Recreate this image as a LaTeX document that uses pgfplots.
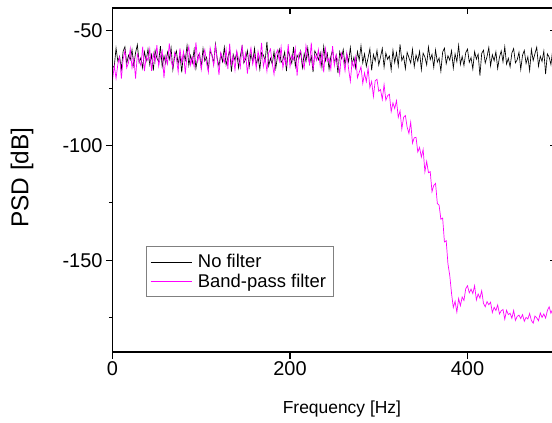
\documentclass[border=0pt]{standalone}
\usepackage{pgfplots}
\usepackage{pgfplotstable}
\pgfplotsset{compat=1.18}
\usepackage{fontspec}
\setmainfont{Liberation Sans}
\definecolor{mag}{RGB}{255,0,255}
\pgfplotstableread{
x nf bp
0 -66.0 -71.5
2 -65.4 -65.2
4 -57.5 -70.7
6 -63.2 -64.6
8 -61.2 -61.4
10 -66.6 -70.8
12 -58.8 -62.3
14 -56.9 -58.6
16 -64.3 -66.1
18 -60.6 -63.9
20 -62.6 -57.7
22 -58.2 -66.1
24 -65.1 -61.8
26 -59.5 -70.8
28 -56.0 -60.1
30 -63.8 -62.7
32 -61.7 -65.2
34 -66.2 -56.9
36 -59.1 -67.5
38 -62.9 -61.2
40 -57.9 -62.9
42 -64.7 -57.8
44 -60.4 -67.4
46 -67.3 -59.7
48 -58.5 -63.6
50 -61.8 -56.2
52 -63.5 -65.3
54 -56.6 -61.3
56 -65.6 -58.6
58 -60.9 -70.6
60 -64.2 -60.9
62 -59.2 -64.4
64 -62.4 -55.4
66 -57.3 -63.0
68 -66.9 -66.0
70 -61.1 -59.5
72 -58.7 -62.0
74 -64.6 -67.9
76 -60.1 -57.6
78 -68.1 -63.9
80 -59.6 -59.0
82 -62.7 -68.8
84 -56.4 -60.5
86 -65.0 -56.8
88 -60.7 -64.9
90 -63.9 -61.4
92 -58.1 -65.7
94 -66.4 -55.0
96 -61.4 -63.3
98 -59.8 -59.9
100 -65.8 -66.8
102 -57.7 -61.2
104 -63.1 -58.1
106 -61.5 -64.1
108 -67.0 -68.0
110 -58.9 -57.3
112 -60.3 -60.6
114 -64.4 -65.0
116 -55.7 -56.5
118 -62.2 -62.6
120 -65.3 -69.2
122 -60.0 -59.4
124 -63.4 -61.6
126 -57.1 -63.8
128 -64.8 -58.0
130 -61.6 -66.6
132 -58.4 -55.6
134 -67.7 -64.7
136 -60.2 -61.0
138 -62.8 -67.1
140 -59.3 -58.7
142 -66.1 -62.2
144 -61.0 -65.9
146 -56.8 -56.1
148 -64.0 -63.4
150 -62.3 -59.8
152 -58.6 -68.6
154 -65.7 -61.5
156 -59.7 -57.4
158 -63.6 -64.5
160 -57.6 -60.4
162 -64.9 -66.3
164 -61.3 -58.9
166 -66.8 -62.7
168 -59.4 -55.2
170 -60.5 -65.5
172 -63.0 -61.8
174 -54.8 -67.6
176 -65.2 -59.6
178 -61.9 -57.9
180 -64.5 -64.0
182 -59.0 -68.9
184 -66.3 -60.1
186 -60.8 -58.3
188 -58.0 -63.1
190 -63.7 -57.0
192 -62.5 -66.1
194 -59.2 -61.4
196 -67.5 -64.8
198 -58.3 -55.8
200 -61.4 -65.6
202 -64.1 -60.7
204 -57.0 -62.5
206 -65.5 -57.5
208 -60.6 -69.5
210 -62.1 -60.0
212 -58.8 -58.8
214 -66.0 -63.7
216 -59.9 -66.4
218 -63.3 -56.4
220 -57.4 -61.1
222 -64.4 -64.3
224 -61.1 -55.1
226 -67.9 -67.0
228 -58.7 -60.5
230 -60.4 -62.8
232 -62.6 -58.2
234 -59.5 -65.2
236 -65.9 -59.3
238 -56.7 -68.1
240 -63.0 -57.7
242 -59.8 -63.2
244 -66.7 -61.9
246 -61.2 -66.7
248 -58.2 -56.6
250 -64.2 -65.1
252 -60.7 -60.4
254 -68.4 -63.3
256 -59.1 -68.8
258 -62.0 -59.8
260 -58.1 -62.5
262 -65.0 -67.4
264 -60.1 -59.7
266 -63.5 -66.5
268 -57.2 -72.0
270 -64.7 -63.2
272 -61.5 -65.8
274 -66.1 -61.3
276 -59.0 -70.4
278 -62.7 -68.1
280 -56.5 -65.6
282 -63.9 -72.9
284 -60.0 -68.3
286 -65.4 -72.1
288 -61.7 -66.2
290 -57.8 -74.7
292 -67.2 -72.0
294 -60.3 -78.6
296 -63.1 -71.7
298 -58.5 -71.1
300 -64.9 -76.3
302 -61.3 -75.6
304 -57.6 -79.9
306 -65.8 -73.4
308 -59.6 -80.2
310 -62.4 -78.2
312 -60.9 -77.6
314 -67.0 -85.2
316 -58.4 -81.4
318 -63.8 -83.8
320 -59.4 -80.4
322 -65.3 -87.7
324 -55.9 -84.9
326 -62.9 -92.7
328 -61.0 -87.7
330 -66.5 -86.9
332 -59.3 -92.0
334 -61.6 -94.7
336 -64.0 -89.8
338 -58.0 -98.9
340 -65.6 -96.6
342 -60.5 -96.4
344 -63.2 -102.8
346 -58.9 -100.8
348 -66.9 -105.0
350 -59.7 -101.7
352 -61.4 -111.4
354 -64.8 -106.9
356 -57.0 -111.8
358 -62.5 -111.4
360 -60.2 -120.1
362 -65.9 -117.3
364 -58.3 -116.5
366 -63.6 -125.2
368 -61.8 -126.0
370 -67.6 -132.1
372 -59.2 -131.6
374 -57.5 -142.0
376 -64.3 -141.5
378 -60.8 -151.7
380 -62.8 -156.6
382 -58.6 -164.4
384 -66.2 -170.6
386 -60.0 -167.9
388 -63.4 -172.6
390 -56.3 -166.7
392 -64.6 -169.8
394 -61.1 -166.0
396 -65.1 -167.5
398 -59.5 -162.4
400 -57.9 -161.1
402 -63.7 -164.2
404 -61.6 -162.6
406 -66.6 -164.5
408 -59.0 -161.1
410 -62.3 -167.3
412 -60.1 -164.7
414 -69.5 -166.5
416 -59.8 -163.3
418 -58.4 -168.8
420 -64.0 -170.3
422 -61.2 -168.0
424 -57.2 -169.4
426 -65.2 -168.3
428 -60.4 -172.8
430 -63.0 -170.5
432 -59.1 -171.9
434 -66.4 -169.5
436 -61.5 -173.4
438 -58.7 -172.0
440 -63.5 -171.5
442 -56.9 -175.7
444 -64.5 -171.8
446 -61.9 -173.7
448 -65.7 -173.1
450 -59.6 -175.3
452 -57.7 -171.9
454 -63.9 -176.2
456 -62.6 -174.5
458 -59.3 -173.9
460 -66.8 -175.4
462 -60.6 -173.7
464 -58.5 -176.6
466 -64.2 -174.9
468 -61.3 -175.6
470 -67.3 -173.2
472 -58.1 -176.3
474 -62.9 -177.4
476 -59.9 -174.3
478 -57.1 -175.1
480 -65.4 -176.4
482 -61.0 -173.0
484 -63.3 -174.9
486 -58.8 -173.4
488 -68.8 -175.2
490 -60.0 -171.9
492 -61.4 -170.3
494 -64.7 -173.1
496 -58.2 -171.3
498 -60.5 -171.6
500 -63.2 -169.8
}\datatable
\begin{document}
\begin{tikzpicture}
\path[use as bounding box] (-112.5bp,-71bp) rectangle (439.5bp,352bp);
\pgfplotsset{
  common/.style={
    scale only axis, width=443.75bp, height=344bp,
    at={(0,0)}, anchor=south west,
    xmin=0, xmax=500, ymin=-190, ymax=-40,
    xtick={0,200,400}, ytick={-150,-100,-50},
    axis line style={line width=1.1bp, black},
    major tick style={line width=1.1bp, black},
    minor tick style={line width=1.1bp, black},
    /pgf/number format/assume math mode=true,
    ticklabel style={font=\fontsize{20}{24}\selectfont},
  }
}
\begin{axis}[common,
  xtick pos=left, ytick pos=left, tick align=outside,
  major tick length=6.5bp, minor tick length=3.5bp,
  minor ytick={-175,-125,-75},
  xlabel={Frequency [Hz]}, ylabel={PSD [dB]},
  xlabel style={font=\fontsize{17.5}{21}\selectfont, at={(axis description cs:0.517,-0.166)}, anchor=center},
  ylabel style={font=\fontsize{24.5}{29}\selectfont, at={(axis description cs:-0.204,0.507)}, anchor=center},
  legend style={at={(rel axis cs:0.0755,0.160)}, anchor=south west, draw=gray, line width=0.8bp,
    font=\fontsize{18.5}{22}\selectfont, inner xsep=4bp, inner ysep=5bp, row sep=-1.5bp,
    nodes={inner xsep=3bp, inner ysep=3bp},
    /tikz/every odd column/.append style={column sep=3bp},
    legend cell align=left},
  legend image code/.code={\draw[#1, line width=0.55bp] (0bp,0bp) -- (41bp,0bp);},
]
\addplot[black, line width=0.65bp] table[x=x, y=nf] {\datatable};
\addlegendentry{No filter}
\addplot[mag, line width=0.7bp] table[x=x, y=bp] {\datatable};
\addlegendentry{Band-pass filter}
\end{axis}
\begin{axis}[common,
  xtick pos=right, ytick pos=right, tick align=inside,
  major tick length=6bp,
  xticklabels={}, yticklabels={},
]
\end{axis}
\end{tikzpicture}
\end{document}
